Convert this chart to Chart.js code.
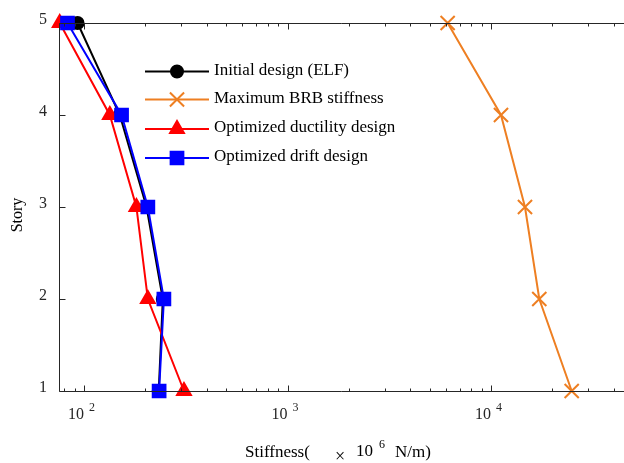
<!DOCTYPE html>
<html>
<head>
<meta charset="utf-8">
<script src="https://cdn.jsdelivr.net/npm/chart.js@4.4.1/dist/chart.umd.min.js"></script>
<style>
  html, body { margin: 0; padding: 0; background: #fff; }
  #wrap { width: 624px; height: 463px; }
</style>
</head>
<body>
<div id="wrap"><canvas id="stiffChart" width="624" height="463"></canvas></div>
<script>
// story numbers (y) and stiffness values (x, x10^6 N/m)
var stories = [1, 2, 3, 4, 5];
var initialElf = [233, 244, 203, 150, 93];
var maxBrb = [24900, 17260, 14680, 11190, 6120];
var optDuctility = [310, 206, 181, 134, 76];
var optDrift = [234, 247, 206, 153, 83];

var seriesNames = ['Initial design (ELF)', 'Maximum BRB stiffness', 'Optimized ductility design', 'Optimized drift design'];
var majorTicks = [100, 1000, 10000];
var tickExp = ['2', '3', '4'];

var serif = '"Liberation Serif", "Times New Roman", serif';
var axisColor = '#262626';

function toPoints(vals) {
  return vals.map(function(v, i) { return { x: v, y: stories[i] }; });
}

function makeSet(label, vals, color, style, radius, order) {
  return {
    label: label,
    data: toPoints(vals),
    borderColor: color,
    backgroundColor: color,
    pointBackgroundColor: style == 'crossRot' ? 'rgba(0,0,0,0)' : color,
    pointBorderColor: color,
    pointBorderWidth: 2,
    pointStyle: style,
    pointRadius: radius,
    borderWidth: 2,
    tension: 0,
    clip: false,
    order: order
  };
}

var datasets = [
  makeSet(seriesNames[0], initialElf, '#000000', 'circle', 6, 4),
  makeSet(seriesNames[1], maxBrb, '#EE7F22', 'crossRot', 10, 3),
  makeSet(seriesNames[2], optDuctility, '#FF0000', 'triangle', 8, 2),
  makeSet(seriesNames[3], optDrift, '#0000FF', 'rect', 9, 1)
];

// axes, ticks, labels and legend drawn the matlab way
var decorPlugin = {
  id: 'decor',
  afterDraw: function(chart) {
    var ctx = chart.ctx;
    var a = chart.chartArea;
    var xs = chart.scales.x;
    var ys = chart.scales.y;
    ctx.save();
    ctx.strokeStyle = axisColor;
    ctx.lineWidth = 1;

    // frame: left, bottom, top
    var L = Math.round(a.left) + 0.5, B = Math.round(a.bottom) + 0.5, T = Math.round(a.top) + 0.5;
    ctx.beginPath();
    ctx.moveTo(L, T); ctx.lineTo(L, B);
    ctx.moveTo(L, B); ctx.lineTo(a.right, B);
    ctx.moveTo(L, T); ctx.lineTo(a.right, T);
    ctx.stroke();

    // log ticks on bottom and top
    ctx.beginPath();
    for (var e = 1; e <= 5; e++) {
      for (var m = 1; m <= 9; m++) {
        var v = m * Math.pow(10, e);
        if (v < xs.min || v > xs.max) continue;
        var px = Math.round(xs.getPixelForValue(v)) + 0.5;
        var len = m == 1 ? 6 : 3;
        ctx.moveTo(px, B); ctx.lineTo(px, B - len);
        ctx.moveTo(px, T); ctx.lineTo(px, T + len);
      }
    }
    // story ticks
    stories.forEach(function(s) {
      var py = Math.round(ys.getPixelForValue(s)) + 0.5;
      ctx.moveTo(L, py); ctx.lineTo(L + 6, py);
    });
    ctx.stroke();

    // tick labels
    ctx.fillStyle = axisColor;
    ctx.textBaseline = 'alphabetic';
    majorTicks.forEach(function(t, i) {
      var px = xs.getPixelForValue(t);
      ctx.font = '16px ' + serif;
      ctx.textAlign = 'right';
      ctx.fillText('10', px, 419);
      ctx.font = '12px ' + serif;
      ctx.textAlign = 'left';
      ctx.fillText(tickExp[i], px + 5, 411);
    });
    ctx.font = '16px ' + serif;
    ctx.textAlign = 'right';
    stories.forEach(function(s) {
      var py = ys.getPixelForValue(s);
      ctx.fillText(String(s), 47, py + 1);
    });

    // axis titles
    ctx.fillStyle = '#000';
    ctx.textAlign = 'left';
    ctx.font = '17px ' + serif;
    ctx.fillText('Stiffness(', 245, 457);
    ctx.font = '18px ' + serif;
    ctx.fillText('\u00d7', 335, 462);
    ctx.font = '17px ' + serif;
    ctx.fillText('10', 356, 456);
    ctx.font = '12px ' + serif;
    ctx.fillText('6', 379, 448);
    ctx.font = '17px ' + serif;
    ctx.fillText('N/m)', 395, 457);

    ctx.save();
    ctx.translate(22, 215);
    ctx.rotate(-Math.PI / 2);
    ctx.textAlign = 'center';
    ctx.font = '16px ' + serif;
    ctx.fillText('Story', 0, 0);
    ctx.restore();

    // legend
    var rows = [71.5, 99.5, 129, 158];
    chart.data.datasets.forEach(function(ds, i) {
      var y = rows[i];
      ctx.strokeStyle = ds.borderColor;
      ctx.lineWidth = 2;
      ctx.beginPath();
      ctx.moveTo(145, y); ctx.lineTo(209, y);
      ctx.stroke();
      ctx.fillStyle = ds.pointBackgroundColor;
      ctx.strokeStyle = ds.pointBorderColor;
      Chart.helpers.drawPoint(ctx, { pointStyle: ds.pointStyle, radius: ds.pointRadius, borderWidth: 2, rotation: 0 }, 177, y);
      ctx.fillStyle = '#000';
      ctx.font = '17px ' + serif;
      ctx.textAlign = 'left';
      ctx.fillText(ds.label, 214, y + 3);
    });
    ctx.restore();
  }
};

var ctx = document.getElementById('stiffChart');
var myChart = new Chart(ctx, {
  type: 'line',
  data: { datasets: datasets },
  options: {
    responsive: false,
    animation: false,
    layout: { autoPadding: false, padding: { left: 59, top: 23, right: 0, bottom: 72 } },
    scales: {
      x: { type: 'logarithmic', min: 75.4, max: 45000, display: false },
      y: { type: 'linear', min: 1, max: 5, display: false }
    },
    plugins: {
      legend: { display: false },
      tooltip: { enabled: false }
    }
  },
  plugins: [decorPlugin]
});
</script>
</body>
</html>
